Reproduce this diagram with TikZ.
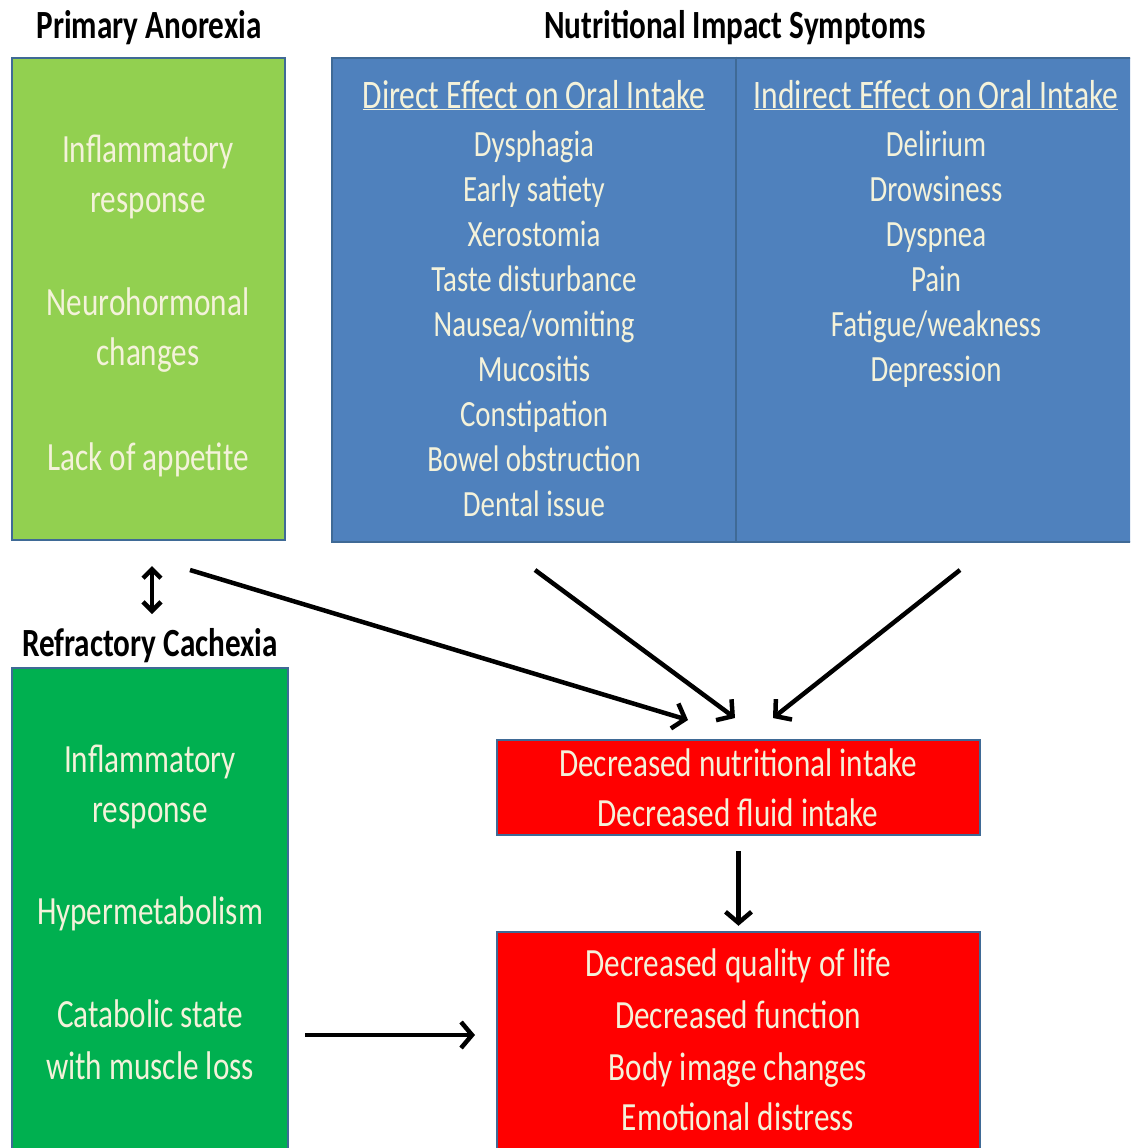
\documentclass[tikz,border=0pt]{standalone}
\usepackage{fontspec}
\setmainfont{Carlito}[FakeStretch=0.78]
\usetikzlibrary{arrows.meta}
\definecolor{lgreen}{HTML}{92D050}
\definecolor{dgreen}{HTML}{00B050}
\definecolor{nblue}{HTML}{4F81BD}
\definecolor{bred}{HTML}{FF0000}
\definecolor{edgec}{HTML}{3F6A96}
\definecolor{cream}{HTML}{F4F2DA}
\begin{document}
\begin{tikzpicture}[x=1pt,y=-1pt,
  box/.style={draw=edgec, line width=2.5pt, rectangle, inner sep=0pt},
  bigtext/.style={text=cream, font=\fontsize{40}{50}\selectfont, inner sep=0pt, text height=28pt, text depth=8pt},
  listtext/.style={text=cream, font=\fontsize{37}{45}\selectfont, inner sep=0pt, text height=26pt, text depth=8pt},
  headtext/.style={text=cream, font=\fontsize{40.5}{45}\selectfont, inner sep=0pt, text height=28pt, text depth=8pt},
  ttl/.style={text=black, font=\bfseries\fontsize{40}{45}\selectfont, inner sep=0pt, text height=28pt, text depth=8pt},
  conn/.style={line width=4.5pt, -{Straight Barb[length=11pt,width=26pt,line width=4.5pt]}}
]
\clip (0,0) rectangle (1130,1148);
\fill[white] (0,0) rectangle (1130,1148);

% titles
\node[ttl] (tpa) at (149,28) {Primary Anorexia};
\node[ttl] (tnis) at (735,28) {Nutritional Impact Symptoms};
\node[ttl] (trc) at (150,646) {Refractory Cachexia};

% boxes
\node[box, fill=lgreen, minimum width=273pt, minimum height=482pt] (pa) at (148.5,299) {};
\node[box, fill=nblue, minimum width=803pt, minimum height=484pt] (nis) at (733.5,300) {};
\node[box, fill=dgreen, minimum width=276pt, minimum height=492pt] (rc) at (150,914) {};
\node[box, fill=bred, minimum width=483pt, minimum height=95pt] (dni) at (738.5,787.5) {};
\node[box, fill=bred, minimum width=483pt, minimum height=228pt] (dql) at (738.5,1046) {};
\draw[edgec, line width=1.5pt] (nis.north -| 736,0) -- (nis.south -| 736,0);

% primary anorexia text
\node[bigtext] (pa1) at (148,152) {Inflammatory};
\node[bigtext] (pa2) at (148,202) {response};
\node[bigtext] (pa3) at (148,305) {Neurohormonal};
\node[bigtext] (pa4) at (148,355) {changes};
\node[bigtext] (pa5) at (148,460) {Lack of appetite};

% direct effect
\node[headtext] (dh) at (534,98) {\underline{Direct Effect on Oral Intake}};
\node[listtext] (d1) at (534,147) {Dysphagia};
\node[listtext] (d2) at (534,192) {Early satiety};
\node[listtext] (d3) at (534,237) {Xerostomia};
\node[listtext] (d4) at (534,282) {Taste disturbance};
\node[listtext] (d5) at (534,327) {Nausea/vomiting};
\node[listtext] (d6) at (534,372) {Mucositis};
\node[listtext] (d7) at (534,417) {Constipation};
\node[listtext] (d8) at (534,462) {Bowel obstruction};
\node[listtext] (d9) at (534,507) {Dental issue};

% indirect effect
\node[headtext] (ih) at (936,98) {\underline{Indirect Effect on Oral Intake}};
\node[listtext] (i1) at (936,147) {Delirium};
\node[listtext] (i2) at (936,192) {Drowsiness};
\node[listtext] (i3) at (936,237) {Dyspnea};
\node[listtext] (i4) at (936,282) {Pain};
\node[listtext] (i5) at (936,327) {Fatigue/weakness};
\node[listtext] (i6) at (936,372) {Depression};

% refractory cachexia text
\node[bigtext] (rc1) at (150,762) {Inflammatory};
\node[bigtext] (rc2) at (150,812) {response};
\node[bigtext] (rc3) at (150,914) {Hypermetabolism};
\node[bigtext] (rc4) at (150,1017) {Catabolic state};
\node[bigtext] (rc5) at (150,1069) {with muscle loss};

% red boxes text
\node[bigtext] (r1) at (738,766) {Decreased nutritional intake};
\node[bigtext] (r2) at (738,816) {Decreased fluid intake};
\node[bigtext] (q1) at (738,966) {Decreased quality of life};
\node[bigtext] (q2) at (738,1018) {Decreased function};
\node[bigtext] (q3) at (738,1070) {Body image changes};
\node[bigtext] (q4) at (738,1120) {Emotional distress};

% connector end points
\coordinate (a1s) at (190,570);
\coordinate (a1e) at (688,720);
\coordinate (a2s) at (535,570);
\coordinate (a2e) at (735,718);
\coordinate (a3s) at (960,570);
\coordinate (a3e) at (773,718);
\coordinate (dbs) at (152,566);
\coordinate (dbe) at (152,614);
\coordinate (hs) at (305,1035);
\coordinate (he) at (475,1035);

\draw[line width=4.5pt, {Straight Barb[length=9pt,width=18pt,line width=4.5pt]}-{Straight Barb[length=9pt,width=18pt,line width=4.5pt]}] (dbs) -- (dbe);
\draw[conn] (a1s) -- (a1e);
\draw[conn] (a2s) -- (a2e);
\draw[conn] (a3s) -- (a3e);
\draw[conn] ([yshift=-15pt]dni.south) -- ([yshift=5pt]dql.north);
\draw[conn] (hs) -- (he);
\end{tikzpicture}
\end{document}
